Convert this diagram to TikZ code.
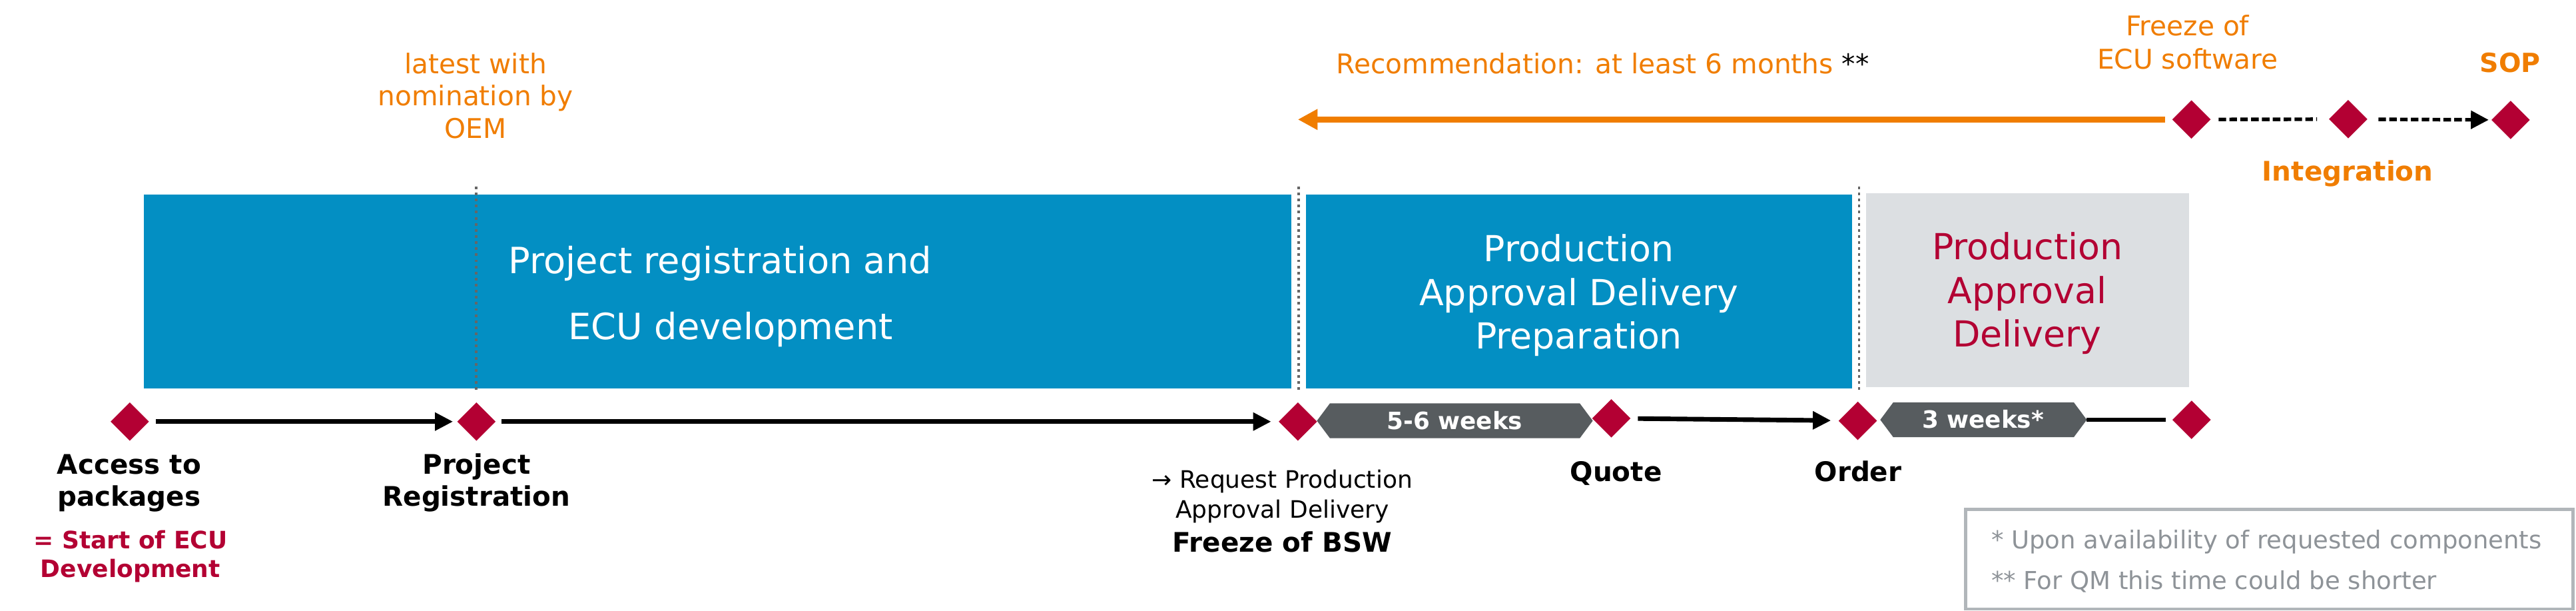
\documentclass[tikz,border=0pt]{standalone}
\usepackage{fontspec}
\setmainfont{DejaVu Sans}
\usetikzlibrary{arrows.meta,shapes.geometric,calc}
\definecolor{ecublue}{HTML}{038FC3}
\definecolor{ecured}{HTML}{B30033}
\definecolor{ecuorange}{HTML}{F07D00}
\definecolor{hexgrey}{HTML}{575C5F}
\definecolor{boxgrey}{HTML}{DCDFE2}
\definecolor{notegrey}{HTML}{8E9398}
\definecolor{framegrey}{HTML}{B1B6BA}
\definecolor{dotgrey}{HTML}{666666}
\tikzset{
	gate/.style={diamond, fill=ecured, inner sep=0pt, minimum size=23.5pt},
	tline/.style={line width=2.8pt},
	tarrow/.style={line width=2.8pt, -{Triangle[length=11pt,width=10.5pt]}},
	darrow/.style={line width=2.2pt, dash pattern=on 4.6pt off 2pt},
	milestone/.style={anchor=base, align=center, font=\bfseries\fontsize{16.4}{19.6}\selectfont},
	phasetext/.style={anchor=base, align=center, text=white, font=\fontsize{21.8}{26.5}\selectfont},
	dotline/.style={dotgrey, line width=1.6pt, dash pattern=on 1.6pt off 2.1pt},
}
\def\hexbox(#1:#2:#3){\fill[hexgrey] (#1,#3) -- ++(7.9,-10.6) -- ($(#2,#3)+(-7.9,-10.6)$) -- (#2,#3) -- ($(#2,#3)+(-7.9,10.6)$) -- ($(#1,#3)+(7.9,10.6)$) -- cycle;}
\begin{document}
\begin{tikzpicture}[x=1pt,y=-1pt]
	%%%%% START %%%%%
	\useasboundingbox (0,0) rectangle (1568,371.7);
	
	% phases
	\fill[ecublue] (87.6,118.2) rectangle (786,236.2);
	\fill[ecublue] (795,118.2) rectangle (1127.3,236.2);
	\fill[boxgrey] (1135.8,117.6) rectangle (1332.4,235.6);
	
	\node[anchor=base west, text=white, font=\fontsize{22}{26}\selectfont] (regA) at (306,166.5) {Project registration and};
	\node[anchor=base west, text=white, font=\fontsize{22}{26}\selectfont] (regB) at (342.5,206.4) {ECU development};
	\node[phasetext] (prep) at (961,212.2) {Production\\Approval Delivery\\Preparation};
	\node[phasetext, text=ecured] (pad) at (1234,211) {Production\\Approval\\Delivery};
	
	\draw[dotline] (290,113.5) -- (290,237.5);
	\draw[dotline] (790.5,113.5) -- (790.5,237.5);
	\draw[dotline] (1131.6,113.5) -- (1131.6,237.5);
	
	% time line
	\node[gate] (acc) at (79,256.5) {};
	\node[gate] (reg) at (290,256.5) {};
	\node[gate] (bsw) at (790,256.5) {};
	\node[gate] (quote) at (980.8,254.5) {};
	\node[gate] (order) at (1130.8,256) {};
	\node[gate] (pend) at (1334,255.4) {};
	
	\draw[tarrow, shorten <=4pt, shorten >=2.3pt] (acc) -- (reg);
	\draw[tarrow, shorten <=3.3pt, shorten >=4.3pt] (reg) -- (bsw);
	\hexbox(801.6:969.5:256)
	\node[anchor=base, text=white, font=\bfseries\fontsize{14.5}{17}\selectfont] (sixw) at (885.5,261.4) {5-6 weeks};
	\draw[tarrow, shorten <=4.3pt, shorten >=4.5pt] (quote) -- (order);
	\hexbox(1144.5:1270.2:255.4)
	\node[anchor=base, text=white, font=\bfseries\fontsize{14.5}{17}\selectfont] (threew) at (1207,260.6) {3 weeks*};
	\coordinate (threewend) at (1270.2,255.4);
	\draw[tline, shorten >=3.9pt] (threewend) -- (pend);
	
	% top line
	\node[gate] (ecusw) at (1333.9,72.7) {};
	\node[gate] (integ) at (1429.3,72.5) {};
	\node[gate] (sop) at (1528.2,73) {};
	\coordinate (recend) at (790,72.7);
	
	\draw[ecuorange, line width=3.8pt, -{Triangle[length=12pt,width=12pt]}, shorten <=4pt] (ecusw) -- (recend);
	\draw[darrow, shorten <=4.6pt, shorten >=7pt] (ecusw) -- (integ);
	\draw[darrow, -{Triangle[length=10.8pt,width=10.8pt]}, shorten <=6.5pt, shorten >=1.5pt] (integ) -- (sop);
	
	\node[anchor=base, align=center, text=ecuorange, font=\fontsize{16.5}{19.8}\selectfont] (latest) at (289.5,84.2) {latest with\\nomination by\\OEM};
	\node[anchor=base west, text=ecuorange, font=\fontsize{16.5}{19.8}\selectfont] (recom) at (810,44.6) {Recommendation: at least 6 months \textcolor{black}{**}};
	\node[anchor=base, align=center, text=ecuorange, font=\fontsize{16.5}{20.4}\selectfont] (frzecu) at (1331.6,42) {Freeze of\\ECU software};
	\node[anchor=base, text=ecuorange, font=\bfseries\fontsize{16}{19}\selectfont] (soptext) at (1528,44) {SOP};
	\node[milestone, text=ecuorange] (integtext) at (1429,110) {Integration};
	
	% milestones
	\node[milestone] (acctext) at (78.6,308) {Access to\\packages};
	\node[anchor=base, align=center, text=ecured, font=\bfseries\fontsize{14.6}{17.6}\selectfont] (start) at (79.4,351.3) {= Start of ECU\\Development};
	\node[milestone] (regtext) at (290,308) {Project\\Registration};
	\node[anchor=base, align=center, font=\fontsize{14.6}{18.1}\selectfont] (request) at (780.5,315.1) {→ Request Production\\Approval Delivery};
	\node[milestone] (bswtext) at (780.5,335.8) {Freeze of BSW};
	\node[milestone] (quotetext) at (983.7,293) {Quote};
	\node[milestone] (ordertext) at (1131,293) {Order};
	
	% notes
	\node[draw=framegrey, line width=2pt, minimum width=369.6pt, minimum height=60.5pt, anchor=north west, inner sep=0pt] (notes) at (1195.4,309) {};
	\node[anchor=base west, text=notegrey, font=\fontsize{15}{18}\selectfont] (noteA) at (1208.6,333.7) {* Upon availability of requested components};
	\node[anchor=base west, text=notegrey, font=\fontsize{15}{18}\selectfont] (noteB) at (1208.6,358.4) {** For QM this time could be shorter};
	%%%%% END %%%%%
\end{tikzpicture}
\end{document}
